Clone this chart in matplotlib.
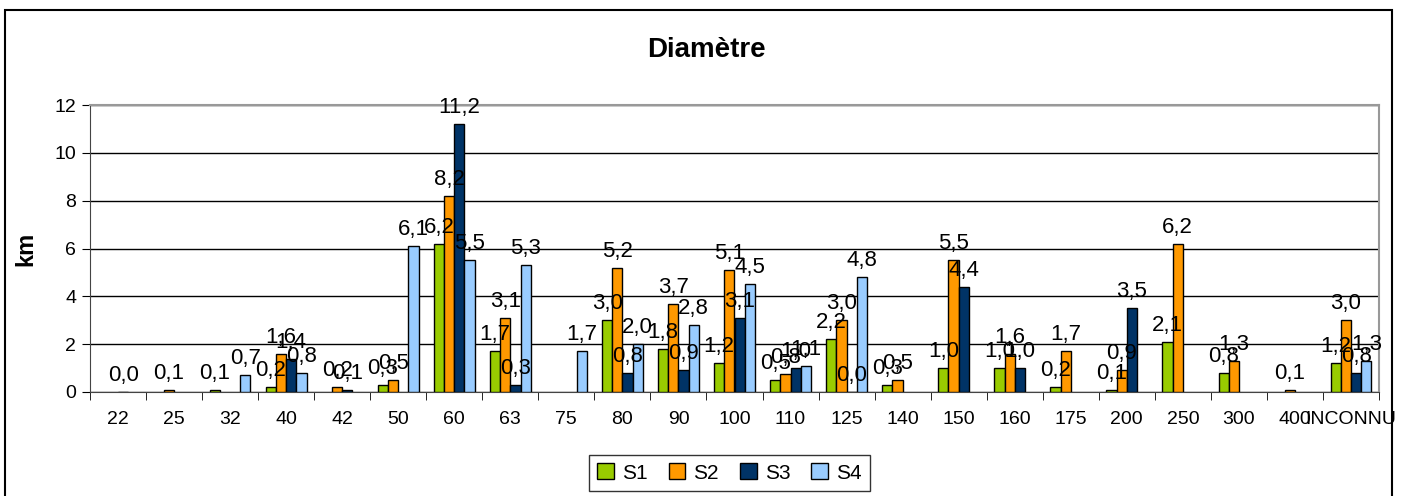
import numpy as np
import matplotlib
matplotlib.use("Agg")
import matplotlib.pyplot as plt
from matplotlib.patches import Rectangle

plt.rcParams['font.family'] = ['Liberation Sans', 'DejaVu Sans']

# diameter categories and the four series (nan = no value)
categories = ["22", "25", "32", "40", "42", "50", "60", "63", "75", "80", "90", "100",
              "110", "125", "140", "150", "160", "175", "200", "250", "300", "400", "INCONNU"]
nan = np.nan
s1 = [nan, nan, 0.1, 0.2, nan, 0.3, 6.2, 1.7, nan, 3.0, 1.8, 1.2,
      0.5, 2.2, 0.3, 1.0, 1.0, 0.2, 0.1, 2.1, 0.8, nan, 1.2]
s2 = [nan, 0.1, nan, 1.6, 0.2, 0.5, 8.2, 3.1, nan, 5.2, 3.7, 5.1,
      0.76, 3.0, 0.5, 5.5, 1.6, 1.7, 0.9, 6.2, 1.3, 0.1, 3.0]
s3 = [0.0, nan, nan, 1.4, 0.1, nan, 11.2, 0.3, nan, 0.8, 0.9, 3.1,
      1.0, 0.02, nan, 4.4, 1.0, nan, 3.5, nan, nan, nan, 0.8]
s4 = [nan, nan, 0.7, 0.8, nan, 6.1, 5.5, 5.3, 1.7, 2.0, 2.8, 4.5,
      1.1, 4.8, nan, nan, nan, nan, nan, nan, nan, nan, 1.3]
series = {"S1": s1, "S2": s2, "S3": s3, "S4": s4}
colors = {"S1": "#99CC00", "S2": "#FF9900", "S3": "#003366", "S4": "#99CCFF"}

fig = plt.figure(figsize=(14.08, 4.96), dpi=100)
ax = fig.add_axes([90 / 1408, 1 - 392 / 496, (1379 - 90) / 1408, (392 - 105) / 496])

x = np.arange(len(categories))
w = 1 / 5.5
for i, (name, vals) in enumerate(series.items()):
    vals = np.array(vals, dtype=float)
    pos = x + (i - 1.5) * w
    ax.bar(pos, vals, width=w, color=colors[name], edgecolor="black", linewidth=1.0,
           label=name, zorder=3)
    for p, v in zip(pos, vals):
        if not np.isnan(v):
            ax.text(p, v + 0.25, f"{v:.1f}".replace(".", ","), ha="center", va="bottom",
                    fontsize=16, zorder=4)

ax.set_xlim(-0.5, len(categories) - 0.5)
ax.set_ylim(0, 12)
ax.set_yticks(range(0, 13, 2))
ax.tick_params(axis="y", labelsize=14, length=6, direction="out", pad=4)
ax.yaxis.grid(True, color="black", linewidth=1.0, zorder=0)
ax.set_xticks(x)
ax.set_xticklabels(categories, fontsize=14)
ax.tick_params(axis="x", length=0, pad=14)
ax.set_xticks(np.arange(-0.5, len(categories), 1), minor=True)
ax.tick_params(axis="x", which="minor", length=6, direction="out")

for side in ["top", "right"]:
    ax.spines[side].set_color("#999999")
    ax.spines[side].set_linewidth(1.5)
ax.spines["left"].set_color("#444444")
ax.spines["bottom"].set_color("#444444")

ax.set_ylabel("km", fontsize=17, fontweight="bold", labelpad=12)
fig.text(706 / 1408, 1 - 50 / 496, "Diamètre", ha="center", va="center",
         fontsize=20, fontweight="bold")

leg = ax.legend(loc="center", bbox_to_anchor=(729.5 / 1408, 1 - 473 / 496),
                bbox_transform=fig.transFigure, ncol=4, fontsize=15, frameon=True,
                fancybox=False, edgecolor="black", handlelength=0.8, handleheight=0.8,
                handletextpad=0.4, columnspacing=1.0, borderpad=0.4)
leg.get_frame().set_linewidth(1.0)

# outer chart border
fig.patches.append(Rectangle((5 / 1408, -0.01), 1387 / 1408, 1 - 10 / 496 + 0.01,
                             transform=fig.transFigure, fill=False,
                             edgecolor="black", linewidth=1.5))

fig.savefig("out.png", dpi=100)
